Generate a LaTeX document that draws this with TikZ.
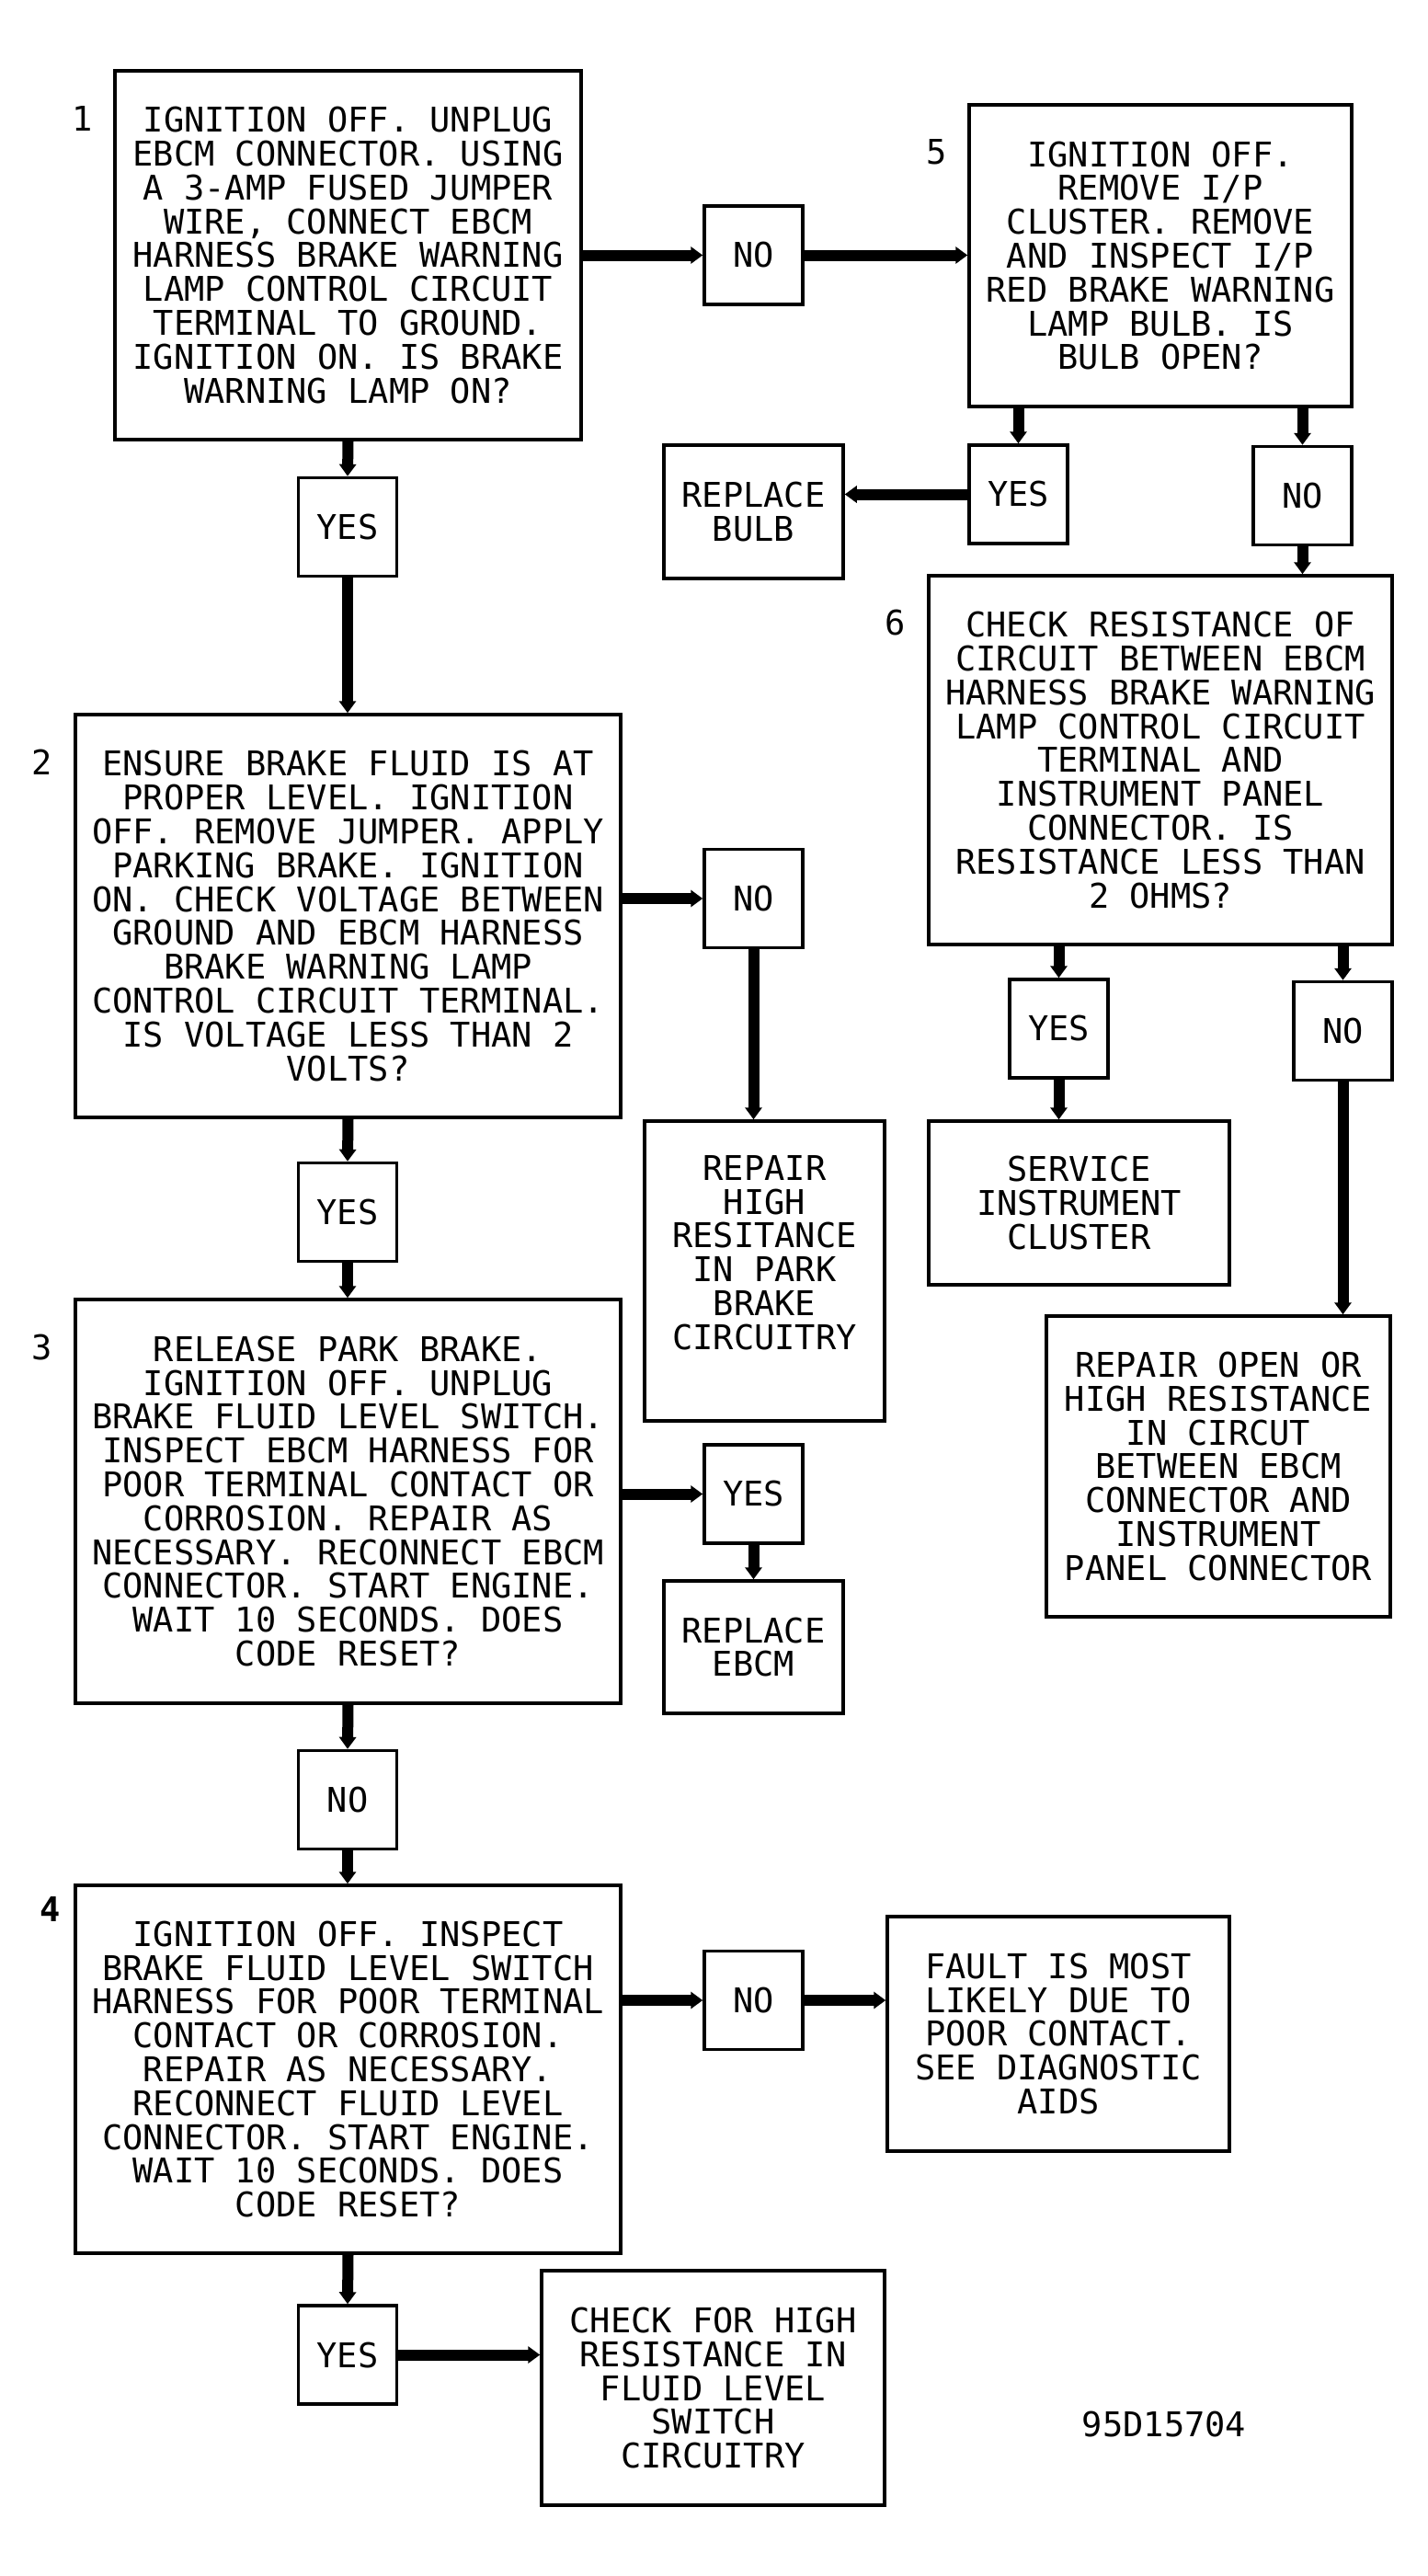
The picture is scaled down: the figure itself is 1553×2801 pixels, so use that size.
\documentclass[tikz,border=0pt]{standalone}
\usepackage{fontspec}
\newfontfamily\plotfont{DejaVu Sans Mono}
\usetikzlibrary{arrows.meta}
\begin{document}
\begin{tikzpicture}
 	[x=1pt,y=-1pt,
 	every node/.style={font=\plotfont\fontsize{37}{36.8}\selectfont},
 	box/.style={draw,line width=3.5pt,inner sep=0pt,align=center},
 	tag/.style={box,minimum width=107pt,minimum height=107pt},
 	num/.style={inner sep=0pt},
 	flow/.style={-{Triangle[width=18pt,length=13pt]},line width=12pt}]
 	\useasboundingbox (0,0) rectangle (1553,2801);
 	% left column
 	\node[box,minimum width=507pt,minimum height=401pt] (b1) at (378.5,277.5)
 		{IGNITION OFF. UNPLUG\\EBCM CONNECTOR. USING\\A 3-AMP FUSED JUMPER\\WIRE, CONNECT EBCM\\HARNESS BRAKE WARNING\\LAMP CONTROL CIRCUIT\\TERMINAL TO GROUND.\\IGNITION ON. IS BRAKE\\WARNING LAMP ON?};
 	\node[tag] (yes1) at (378,573) {YES};
 	\node[box,minimum width=593pt,minimum height=438pt] (b2) at (378.5,996)
 		{ENSURE BRAKE FLUID IS AT\\PROPER LEVEL. IGNITION\\OFF. REMOVE JUMPER. APPLY\\PARKING BRAKE. IGNITION\\ON. CHECK VOLTAGE BETWEEN\\GROUND AND EBCM HARNESS\\BRAKE WARNING LAMP\\CONTROL CIRCUIT TERMINAL.\\IS VOLTAGE LESS THAN 2\\VOLTS?};
 	\node[tag] (yes2) at (378,1318) {YES};
 	\node[box,minimum width=593pt,minimum height=439pt] (b3) at (378.5,1632.5)
 		{RELEASE PARK BRAKE.\\IGNITION OFF. UNPLUG\\BRAKE FLUID LEVEL SWITCH.\\INSPECT EBCM HARNESS FOR\\POOR TERMINAL CONTACT OR\\CORROSION. REPAIR AS\\NECESSARY. RECONNECT EBCM\\CONNECTOR. START ENGINE.\\WAIT 10 SECONDS. DOES\\CODE RESET?};
 	\node[tag] (no3) at (378,1957) {NO};
 	\node[box,minimum width=593pt,minimum height=400pt] (b4) at (378.5,2250)
 		{IGNITION OFF. INSPECT\\BRAKE FLUID LEVEL SWITCH\\HARNESS FOR POOR TERMINAL\\CONTACT OR CORROSION.\\REPAIR AS NECESSARY.\\RECONNECT FLUID LEVEL\\CONNECTOR. START ENGINE.\\WAIT 10 SECONDS. DOES\\CODE RESET?};
 	\node[tag] (yes4) at (378,2560.5) {YES};
 	% middle column
 	\node[tag] (no1) at (819.5,277.5) {NO};
 	\node[box,minimum width=195pt,minimum height=145pt] (rb) at (819.5,556.5) {REPLACE\\BULB};
 	\node[tag] (no2) at (819.5,977) {NO};
 	\node[box,minimum width=261pt,minimum height=326pt] (rh) at (831.5,1382) {};
 	\node[num,align=center] (rhtext) at ([yshift=20pt]rh.center)
 		{REPAIR\\HIGH\\RESITANCE\\IN PARK\\BRAKE\\CIRCUITRY};
 	\node[tag] (yes3) at (819.5,1624.5) {YES};
 	\node[box,minimum width=195pt,minimum height=144pt] (re) at (819.5,1791) {REPLACE\\EBCM};
 	\node[tag] (no4) at (819.5,2175) {NO};
 	\node[box,minimum width=373pt,minimum height=255pt] (ck) at (775.5,2596.5)
 		{CHECK FOR HIGH\\RESISTANCE IN\\FLUID LEVEL\\SWITCH\\CIRCUITRY};
 	% right column
 	\node[box,minimum width=416pt,minimum height=328pt] (b5) at (1262,278)
 		{IGNITION OFF.\\REMOVE I/P\\CLUSTER. REMOVE\\AND INSPECT I/P\\RED BRAKE WARNING\\LAMP BULB. IS\\BULB OPEN?};
 	\node[tag] (yes5) at (1107.5,537.5) {YES};
 	\node[tag] (no5) at (1416.5,539) {NO};
 	\node[box,minimum width=504pt,minimum height=401pt] (b6) at (1262,826.5)
 		{CHECK RESISTANCE OF\\CIRCUIT BETWEEN EBCM\\HARNESS BRAKE WARNING\\LAMP CONTROL CIRCUIT\\TERMINAL AND\\INSTRUMENT PANEL\\CONNECTOR. IS\\RESISTANCE LESS THAN\\2 OHMS?};
 	\node[tag] (yes6) at (1151.5,1118.5) {YES};
 	\node[tag] (no6) at (1460.5,1121) {NO};
 	\node[box,minimum width=327pt,minimum height=178pt] (sv) at (1173.5,1308)
 		{SERVICE\\INSTRUMENT\\CLUSTER};
 	\node[box,minimum width=374pt,minimum height=327pt] (ro) at (1325,1594.5)
 		{REPAIR OPEN OR\\HIGH RESISTANCE\\IN CIRCUT\\BETWEEN EBCM\\CONNECTOR AND\\INSTRUMENT\\PANEL CONNECTOR};
 	\node[box,minimum width=372pt,minimum height=255pt] (fa) at (1151,2211.5)
 		{FAULT IS MOST\\LIKELY DUE TO\\POOR CONTACT.\\SEE DIAGNOSTIC\\AIDS};
 	% step numbers
 	\node[num] (n1) at (90,129) {1};
 	\node[num] (n2) at (46,829) {2};
 	\node[num] (n3) at (46,1465) {3};
 	\node[num,font=\plotfont\bfseries\fontsize{37}{36.8}\selectfont] (n4) at (55,2076) {4};
 	\node[num] (n5) at (1019,165) {5};
 	\node[num] (n6) at (974,677) {6};
 	\node[num] (code) at (1266,2636) {95D15704};
 	% connectors
 	\draw[flow] (b1.east) -- (no1.west);
 	\draw[flow] (no1.east) -- (no1.east -| b5.west);
 	\draw[flow] (b1.south) -- (yes1.north);
 	\draw[flow] (yes1.south) -- (yes1.south |- b2.north);
 	\draw[flow] (b2.east |- no2.west) -- (no2.west);
 	\draw[flow] (no2.south) -- (no2.south |- rh.north);
 	\draw[flow] (b2.south) -- (yes2.north);
 	\draw[flow] (yes2.south) -- (yes2.south |- b3.north);
 	\draw[flow] (b3.east |- yes3.west) -- (yes3.west);
 	\draw[flow] (yes3.south) -- (yes3.south |- re.north);
 	\draw[flow] (b3.south) -- (no3.north);
 	\draw[flow] (no3.south) -- (no3.south |- b4.north);
 	\draw[flow] (b4.east |- no4.west) -- (no4.west);
 	\draw[flow] (no4.east) -- (no4.east -| fa.west);
 	\draw[flow] (b4.south) -- (yes4.north);
 	\draw[flow] (yes4.east) -- (yes4.east -| ck.west);
 	\draw[flow] (yes5.north |- b5.south) -- (yes5.north);
 	\draw[flow] (no5.north |- b5.south) -- (no5.north);
 	\draw[flow] (yes5.west) -- (yes5.west -| rb.east);
 	\draw[flow] (no5.south) -- (no5.south |- b6.north);
 	\draw[flow] (yes6.north |- b6.south) -- (yes6.north);
 	\draw[flow] (no6.north |- b6.south) -- (no6.north);
 	\draw[flow] (yes6.south) -- (yes6.south |- sv.north);
 	\draw[flow] (no6.south) -- (no6.south |- ro.north);
 	\end{tikzpicture}
\end{document}
